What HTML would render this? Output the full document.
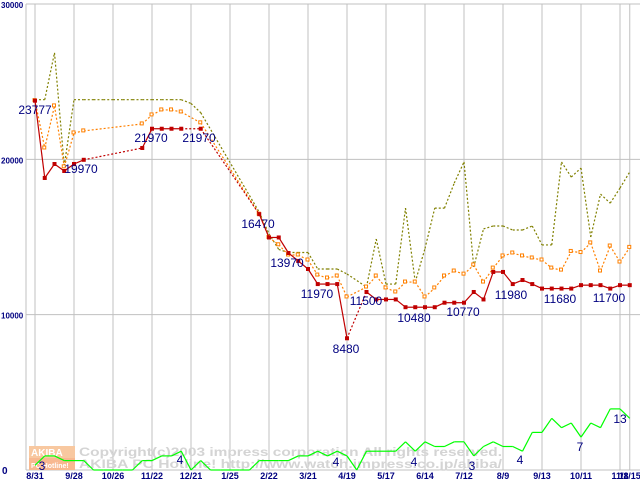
<!DOCTYPE html>
<html><head><meta charset="utf-8">
<style>
html,body{margin:0;padding:0;background:#fff;width:640px;height:480px;overflow:hidden}
svg{display:block}
text{font-family:"Liberation Sans",sans-serif}
</style></head>
<body>
<svg id="chart" width="640" height="480"></svg>
<script>
const categories=["8/31","9/28","10/26","11/22","12/21","1/25","2/22","3/21","4/19","5/17","6/14","7/12","8/9","9/13","10/11","11/8","11/15"];
const categoryIndex=[0,4,8,12,16,20,24,28,32,36,40,44,48,52,56,60,61];
const yTicks=[0,10000,20000,30000];
const N=62;
const minPrice=[23777,18800,19700,19250,19700,19970,null,null,null,null,null,20730,21970,21970,21970,21970,null,21970,null,null,null,null,null,16470,14970,14970,13970,13460,12940,11970,11970,11970,8480,null,11460,10980,10980,10980,10480,10480,10480,10480,10770,10770,10770,11460,10980,12750,12750,11970,12230,11970,11680,11680,11680,11680,11900,11900,11900,11680,11900,11900];
const avgPrice=[23777,20730,23440,19520,21700,21830,null,null,null,null,null,22280,22860,23180,23180,23050,null,22350,null,null,null,null,null,16470,14970,14500,13840,13840,13520,12550,12360,12490,11140,null,11780,12490,11720,11460,12100,12100,11140,11720,12490,12810,12610,13200,12100,13000,13780,13970,13780,13650,13520,13000,12870,14070,14000,14620,12810,14420,13390,14330];
const maxPrice=[23840,23840,26860,19580,23840,23840,23840,23840,23840,23840,23840,23840,23840,23840,23840,23840,23600,23000,null,null,null,null,null,16600,15200,14200,14000,14000,14000,12940,12940,12940,12620,null,11780,14870,11970,11970,16860,12100,14260,16860,16860,18470,19830,13070,15520,15710,15710,15450,15450,15710,14490,14490,19830,18860,19440,15000,17760,17180,18150,19190];
const salesCount=[1,3,3,2,2,2,0,0,0,0,0,2,2,3,3,4,0,2,0,0,0,0,0,2,2,2,2,3,3,4,3,4,3,0,4,4,4,4,6,4,6,5,5,6,6,3,5,6,5,5,4,8,8,11,9,10,7,10,9,13,13,11];
const priceLabels=[["23777",35,114],["21970",151,142],["21970",199,142],["19970",81,173],["16470",258,228],["13970",287,267],["11970",317,298],["8480",346,353],["11500",366,305],["10480",414,322],["10770",463,316],["11980",511,299],["11680",560,303],["11700",609,302]];
const countLabels=[["3",42,470],["4",180,464],["4",336,466],["4",414,466],["3",472,470],["4",520,464],["7",580,451],["13",620,423]];

const svg=document.getElementById('chart');
const NS='http://www.w3.org/2000/svg';
const X0=35,DX=9.75,YB=470,YT=4;
const x=i=>X0+i*DX;
const y=v=>YB-v*(YB-YT)/30000;
const yc=v=>YB-v*4.7;
function el(t,a,p){const e=document.createElementNS(NS,t);for(const k in a)e.setAttribute(k,a[k]);(p||svg).appendChild(e);return e;}

const grid=el('g',{});


yTicks.forEach(t=>{
  const l=el('line',{x1:26,x2:640,y1:y(t),y2:y(t),stroke:'#c0c0c0','stroke-width':1},grid);
  
  
  const tx=el('text',{x:t===0?2:1,y:y(t)+4,'font-size':t===0?10:8,'font-weight':'bold',fill:'#000080'},svg);
  tx.textContent=String(t);
  
  
});
el('line',{x1:26,x2:26,y1:4,y2:470,stroke:'#c0c0c0'},grid);
categories.forEach((c,k)=>{
  const xx=x(categoryIndex[k]);
  const l=el('line',{x1:xx,x2:xx,y1:4,y2:470,stroke:'#c0c0c0'},grid);
  
  
  const tx=el('text',{x:xx,y:479,'font-size':9,'font-weight':'bold',fill:'#000080','text-anchor':'middle'});
  tx.textContent=c;
  
  
});

// watermark
const wm=el('g',{});


el('rect',{x:29,y:446,width:46,height:12,fill:'#f8c8a0'},wm);
el('rect',{x:29,y:458,width:46,height:12,fill:'#f8b890'},wm);
const w1=el('text',{x:31,y:456,'font-size':10,'font-weight':'bold',fill:'#fff'},wm);w1.textContent='AKIBA';
const w2=el('text',{x:31,y:468,'font-size':7,'font-weight':'bold',fill:'#fff'},wm);w2.textContent='PC Hotline!';
const w3=el('text',{x:79,y:456,'font-size':12,'font-weight':'bold',fill:'#d4d4d4','font-family':'Liberation Mono',textLength:423,lengthAdjust:'spacingAndGlyphs'},wm);w3.textContent='Copyright(c)2003 impress corporation All rights reserved.';
const w4=el('text',{x:79,y:468,'font-size':12,'font-weight':'bold',fill:'#d4d4d4','font-family':'Liberation Mono',textLength:423,lengthAdjust:'spacingAndGlyphs'},wm);w4.textContent='AKIBA PC Hotline!  http://www.watch.impress.co.jp/akiba/';

function series(data,fy,color,dash,name,marker,hollow){
  const g=el('g',{});
  
  
  let prev=-1;
  for(let i=0;i<data.length;i++){
    if(data[i]==null)continue;
    if(prev>=0){
      const gap=i-prev>1;
      el('line',{x1:x(prev),y1:fy(data[prev]),x2:x(i),y2:fy(data[i]),stroke:color,'stroke-width':1.2,'stroke-dasharray':(dash||gap)?'2,2':'none'},g);
    }
    prev=i;
  }
  if(marker){
    data.forEach((v,i)=>{
      if(v==null)return;
      const m=el('rect',{x:x(i)-2,y:fy(v)-2,width:hollow?3:4,height:hollow?3:4,fill:hollow?'#fff':color,stroke:color,'stroke-width':hollow?1:0},g);
      
      
    });
  }
}
series(maxPrice,y,'#808000',true,'max-price-series',false,false);
series(avgPrice,y,'#ff8000',true,'avg-price-series',true,true);
series(minPrice,y,'#c00000',false,'min-price-series',true,false);
series(salesCount,yc,'#00ff00',false,'sales-count-series',false,false);

priceLabels.forEach(p=>{
  const t=el('text',{x:p[1],y:p[2],'font-size':12,fill:'#000080','text-anchor':'middle'});
  t.textContent=p[0];
  
  
});
countLabels.forEach(p=>{
  const t=el('text',{x:p[1],y:p[2],'font-size':12,fill:'#000080','text-anchor':'middle'});
  t.textContent=p[0];
  
  
});
</script>
</body></html>
